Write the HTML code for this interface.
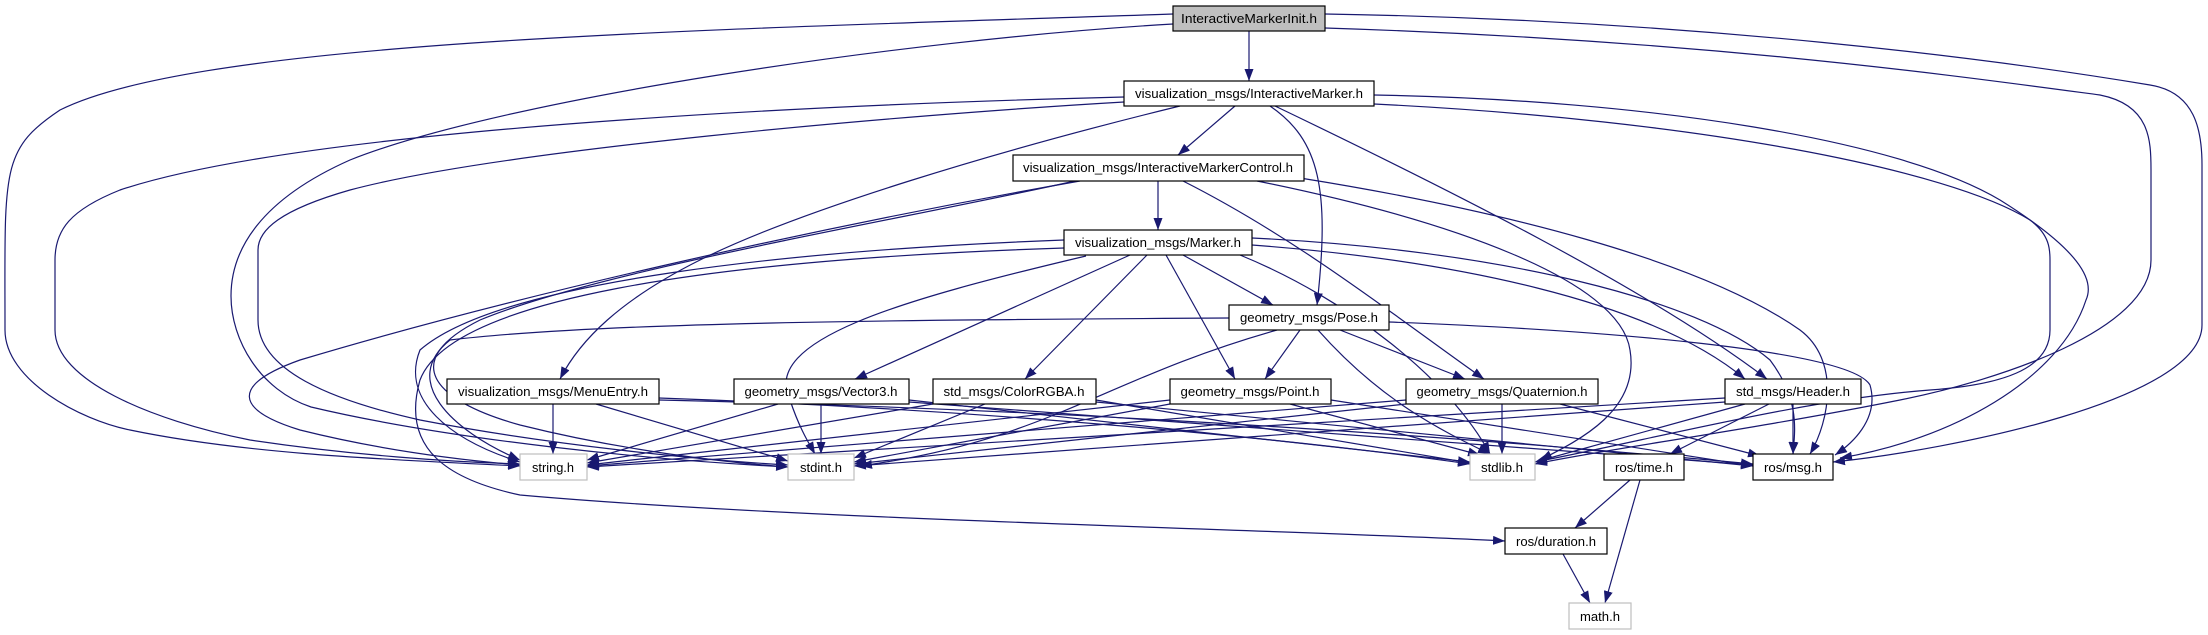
<!DOCTYPE html>
<html><head><meta charset="utf-8"><style>
html,body{margin:0;padding:0;background:#fff;}
svg{display:block;}
text{font-family:"Liberation Sans",sans-serif;font-size:13px;fill:#000;}
.e{fill:none;stroke:#191970;stroke-width:1.2;marker-end:url(#a);}
.n{fill:#fff;stroke:#000;stroke-width:1.2;}
.g{fill:#fff;stroke:#bfbfbf;stroke-width:1.2;}
</style></head><body>
<svg width="2208" height="635" viewBox="0 0 2208 635" xmlns="http://www.w3.org/2000/svg">
<defs><marker id="a" markerUnits="userSpaceOnUse" markerWidth="12" markerHeight="9" refX="12" refY="4.5" orient="auto"><path d="M0,0 L12,4.5 L0,9 z" fill="#191970"/></marker></defs>
<g>
<path class="e" d="M1249,31 L1249,81"/>
<path class="e" d="M1173,14 C700,30 200,40 60,110 C0,150 5,170 5,330 C5,380 80,420 130,430 C250,455 400,460 520,466"/>
<path class="e" d="M1173,24 C900,40 500,100 350,160 C260,200 231,250 231,296 C231,340 260,390 311,407 C450,440 650,460 788,467"/>
<path class="e" d="M1325,28 C1700,40 1950,75 2100,95 C2150,105 2151,140 2151,170 L2151,260 C2151,330 2000,380 1900,400 C1750,430 1600,450 1535,464"/>
<path class="e" d="M1325,14 C1700,20 2000,60 2150,85 C2195,92 2202,130 2202,165 L2202,325 C2202,400 1950,450 1833,462"/>
<path class="e" d="M1235,106 L1178,155"/>
<path class="e" d="M1270,106 C1320,140 1330,190 1317,305"/>
<path class="e" d="M1180,106 C1000,150 800,210 700,260 C620,300 580,340 560,379"/>
<path class="e" d="M1275,106 C1450,190 1650,290 1767,379"/>
<path class="e" d="M1124,97 C800,105 300,130 120,190 C70,210 55,230 55,260 L55,330 C55,380 150,420 250,440 C350,455 450,462 520,464"/>
<path class="e" d="M1124,102 C900,115 500,150 350,190 C280,210 258,230 258,250 L258,320 C258,370 330,400 420,420 C550,445 700,460 788,465"/>
<path class="e" d="M1374,104 C1700,120 1950,170 2030,220 C2050,235 2050,250 2050,260 L2050,330 C2050,370 2000,385 1930,390 C1800,400 1650,440 1535,462"/>
<path class="e" d="M1374,95 C1650,100 1900,140 2000,200 C2080,250 2095,280 2086,300 C2060,380 1950,440 1840,458"/>
<path class="e" d="M1158,181 L1158,230"/>
<path class="e" d="M1183,181 C1300,240 1400,320 1484,379"/>
<path class="e" d="M1080,181 C800,230 500,300 300,360 C230,385 235,410 300,430 C380,450 460,460 520,465"/>
<path class="e" d="M1075,181 C900,220 600,270 480,320 C400,360 430,400 520,425 C620,450 720,462 788,467"/>
<path class="e" d="M1257,181 C1450,220 1620,280 1630,350 C1640,410 1580,440 1540,460"/>
<path class="e" d="M1300,178 C1500,210 1700,260 1800,330 C1840,360 1830,420 1810,454"/>
<path class="e" d="M1183,255 L1273,305"/>
<path class="e" d="M1166,255 L1235,379"/>
<path class="e" d="M1130,255 L855,379"/>
<path class="e" d="M1147,255 L1025,379"/>
<path class="e" d="M1252,245 C1450,260 1650,300 1745,379"/>
<path class="e" d="M1064,240 C800,250 500,280 420,350 C400,400 450,440 520,462"/>
<path class="e" d="M1086,256 C900,300 760,340 790,400 C800,430 810,445 815,454"/>
<path class="e" d="M1240,255 C1350,300 1450,380 1490,454"/>
<path class="e" d="M1252,238 C1500,250 1700,300 1770,360 C1800,400 1795,430 1793,454"/>
<path class="e" d="M1064,248 C700,260 450,300 420,380 C400,450 450,480 520,495 C800,520 1300,530 1505,541"/>
<path class="e" d="M1300,330 L1265,379"/>
<path class="e" d="M1340,330 L1465,379"/>
<path class="e" d="M1229,318 C900,320 600,322 450,340 C400,380 450,430 520,460"/>
<path class="e" d="M1277,330 C1100,380 1050,440 860,466"/>
<path class="e" d="M1318,330 C1380,400 1440,430 1490,454"/>
<path class="e" d="M1389,322 C1600,330 1850,350 1870,385 C1880,420 1850,445 1835,455"/>
<path class="e" d="M553,404 L553,454"/>
<path class="e" d="M596,404 L788,461"/>
<path class="e" d="M659,398 C1000,410 1300,440 1470,464"/>
<path class="e" d="M659,400 C1100,410 1500,440 1753,464"/>
<path class="e" d="M778,404 L587,460"/>
<path class="e" d="M821,404 L821,454"/>
<path class="e" d="M909,400 L1470,462"/>
<path class="e" d="M909,402 L1753,465"/>
<path class="e" d="M933,404 L587,463"/>
<path class="e" d="M985,404 L854,458"/>
<path class="e" d="M1096,400 L1470,463"/>
<path class="e" d="M1096,402 L1753,466"/>
<path class="e" d="M1170,400 L587,465"/>
<path class="e" d="M1170,404 L854,462"/>
<path class="e" d="M1290,404 L1480,455"/>
<path class="e" d="M1331,400 L1753,466"/>
<path class="e" d="M1406,400 L587,466"/>
<path class="e" d="M1406,404 L854,464"/>
<path class="e" d="M1502,404 L1502,454"/>
<path class="e" d="M1560,404 L1760,456"/>
<path class="e" d="M1725,398 L587,467"/>
<path class="e" d="M1725,402 L854,466"/>
<path class="e" d="M1745,404 L1535,462"/>
<path class="e" d="M1793,404 L1793,454"/>
<path class="e" d="M1769,404 L1670,454"/>
<path class="e" d="M1630,480 L1575,528"/>
<path class="e" d="M1640,480 L1605,603"/>
<path class="e" d="M1563,554 L1590,603"/>
</g>
<g>
<rect x="1173" y="6" width="152" height="25" fill="#bfbfbf" stroke="#000" stroke-width="1.2"/>
<text x="1249" y="23" text-anchor="middle" textLength="136" lengthAdjust="spacingAndGlyphs">InteractiveMarkerInit.h</text>
<rect class="n" x="1124" y="81" width="250" height="25"/>
<text x="1249" y="98" text-anchor="middle" textLength="228" lengthAdjust="spacingAndGlyphs">visualization_msgs/InteractiveMarker.h</text>
<rect class="n" x="1013" y="155" width="291" height="26"/>
<text x="1158" y="172" text-anchor="middle" textLength="270" lengthAdjust="spacingAndGlyphs">visualization_msgs/InteractiveMarkerControl.h</text>
<rect class="n" x="1064" y="230" width="188" height="25"/>
<text x="1158" y="247" text-anchor="middle" textLength="166" lengthAdjust="spacingAndGlyphs">visualization_msgs/Marker.h</text>
<rect class="n" x="1229" y="305" width="160" height="25"/>
<text x="1309" y="322" text-anchor="middle" textLength="138" lengthAdjust="spacingAndGlyphs">geometry_msgs/Pose.h</text>
<rect class="n" x="447" y="379" width="212" height="25"/>
<text x="553" y="396" text-anchor="middle" textLength="190" lengthAdjust="spacingAndGlyphs">visualization_msgs/MenuEntry.h</text>
<rect class="n" x="734" y="379" width="175" height="25"/>
<text x="821" y="396" text-anchor="middle" textLength="153" lengthAdjust="spacingAndGlyphs">geometry_msgs/Vector3.h</text>
<rect class="n" x="933" y="379" width="163" height="25"/>
<text x="1014" y="396" text-anchor="middle" textLength="141" lengthAdjust="spacingAndGlyphs">std_msgs/ColorRGBA.h</text>
<rect class="n" x="1170" y="379" width="161" height="25"/>
<text x="1250" y="396" text-anchor="middle" textLength="139" lengthAdjust="spacingAndGlyphs">geometry_msgs/Point.h</text>
<rect class="n" x="1406" y="379" width="192" height="25"/>
<text x="1502" y="396" text-anchor="middle" textLength="171" lengthAdjust="spacingAndGlyphs">geometry_msgs/Quaternion.h</text>
<rect class="n" x="1725" y="379" width="136" height="25"/>
<text x="1793" y="396" text-anchor="middle" textLength="114" lengthAdjust="spacingAndGlyphs">std_msgs/Header.h</text>
<rect class="g" x="520" y="454" width="67" height="26"/>
<text x="553" y="472" text-anchor="middle" textLength="42" lengthAdjust="spacingAndGlyphs">string.h</text>
<rect class="g" x="788" y="454" width="66" height="26"/>
<text x="821" y="472" text-anchor="middle" textLength="42" lengthAdjust="spacingAndGlyphs">stdint.h</text>
<rect class="g" x="1470" y="454" width="65" height="26"/>
<text x="1502" y="472" text-anchor="middle" textLength="42" lengthAdjust="spacingAndGlyphs">stdlib.h</text>
<rect class="n" x="1604" y="454" width="80" height="26"/>
<text x="1644" y="472" text-anchor="middle" textLength="58" lengthAdjust="spacingAndGlyphs">ros/time.h</text>
<rect class="n" x="1753" y="454" width="80" height="26"/>
<text x="1793" y="472" text-anchor="middle" textLength="58" lengthAdjust="spacingAndGlyphs">ros/msg.h</text>
<rect class="n" x="1505" y="528" width="102" height="26"/>
<text x="1556" y="546" text-anchor="middle" textLength="80" lengthAdjust="spacingAndGlyphs">ros/duration.h</text>
<rect class="g" x="1569" y="603" width="62" height="26"/>
<text x="1600" y="621" text-anchor="middle" textLength="40" lengthAdjust="spacingAndGlyphs">math.h</text>
</g>
</svg>
</body></html>
